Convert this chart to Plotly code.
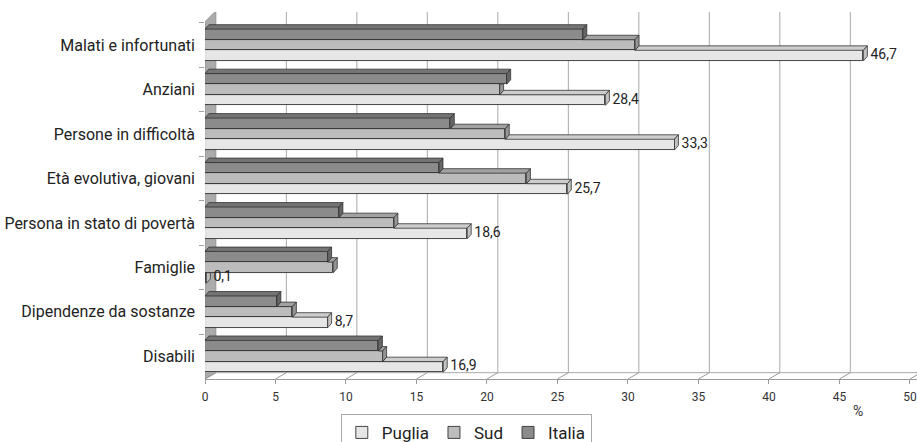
import plotly.graph_objects as go

# ---------------- data ----------------
categories = ["Malati e infortunati", "Anziani", "Persone in difficoltà",
              "Età evolutiva, giovani", "Persona in stato di povertà",
              "Famiglie", "Dipendenze da sostanze", "Disabili"]
puglia = [46.7, 28.4, 33.3, 25.7, 18.6, 0.1, 8.7, 16.9]
sud = [30.5, 20.9, 21.3, 22.8, 13.4, 9.1, 6.2, 12.6]
italia = [26.8, 21.4, 17.4, 16.6, 9.5, 8.7, 5.1, 12.3]
x_ticks = [0, 5, 10, 15, 20, 25, 30, 35, 40, 45, 50]
unit_label = "%"

# ---------------- styling / geometry ----------------
FONT = "Roboto, Liberation Sans, Arial, sans-serif"
TXT = "#222222"
X_RANGE = [0, 50.5]
Y_RANGE = [-0.51, 7.742]
H = 0.238            # bar thickness (category units)
BAR_DX, BAR_DY = 0.28, 0.10     # 3D depth of bars
WALL_DX, WALL_DY = 0.77, 0.142  # 3D depth of walls
TOP_FRONT, TOP_BACK = 7.52, 7.77
LABEL_GAP = 0.22

n = len(categories)
pos = [n - 1 - j for j in range(n)]   # first category on top

series = [
    # name, values, offset, front, top, side
    ("Puglia", puglia, -H, "#e6e6e6", "#cdcdcd", "#c2c2c2"),
    ("Sud", sud, 0.0, "#bcbcbc", "#a2a2a2", "#959595"),
    ("Italia", italia, H, "#8b8b8b", "#747474", "#666666"),
]
upper = {"Puglia": sud, "Sud": italia, "Italia": None}

fig = go.Figure()

# front faces as real bars
for name, vals, off, cf, ct, cs in series:
    fig.add_trace(go.Bar(
        name=name, orientation="h", x=vals, y=[p + off for p in pos],
        width=H, marker=dict(color=cf, line=dict(color="#333333", width=0.9)),
        hoverinfo="x+name",
    ))

# 3D top and side faces, derived from the same values
for name, vals, off, cf, ct, cs in series:
    up = upper[name]
    tx, ty, sx, sy = [], [], [], []
    for j, v in enumerate(vals):
        yc = pos[j] + off
        yt = yc + H / 2
        u = 0.0 if up is None else up[j]
        if v > u:
            tx += [u, v, v + BAR_DX, u + BAR_DX, u, None]
            ty += [yt, yt, yt + BAR_DY, yt + BAR_DY, yt, None]
        if up is not None and up[j] >= v + BAR_DX:
            sx += [v, v, v + BAR_DX, v + BAR_DX, v, None]
            sy += [yt - H, yt, yt, yt - H + BAR_DY, yt - H, None]
        else:
            sx += [v, v, v + BAR_DX, v + BAR_DX, v, None]
            sy += [yt - H, yt, yt + BAR_DY, yt - H + BAR_DY, yt - H, None]
    fig.add_trace(go.Scatter(x=tx, y=ty, mode="lines", fill="toself",
                             fillcolor=ct, line=dict(color="#333333", width=0.8),
                             showlegend=False, hoverinfo="skip"))
    fig.add_trace(go.Scatter(x=sx, y=sy, mode="lines", fill="toself",
                             fillcolor=cs, line=dict(color="#333333", width=0.8),
                             showlegend=False, hoverinfo="skip"))

# value labels for Puglia
fig.add_trace(go.Scatter(
    x=[v + BAR_DX + LABEL_GAP for v in puglia], y=[p - H for p in pos], mode="text",
    text=[f"{v:.1f}".replace(".", ",") for v in puglia],
    textposition="middle right", textfont=dict(family=FONT, size=14, color=TXT),
    showlegend=False, hoverinfo="skip", cliponaxis=False,
))

# ---------------- decorations: back wall grid, left wall, floor ----------------
y_floor_front = Y_RANGE[0]
y_floor_back = Y_RANGE[0] + WALL_DY
shapes = []
# left wall
shapes.append(dict(type="path", xref="x", yref="y", layer="below",
                   path=(f"M 0 {y_floor_front} L 0 {TOP_FRONT} L {WALL_DX} {TOP_BACK} "
                         f"L {WALL_DX} {y_floor_back} Z"),
                   fillcolor="#ababab", line=dict(color="#8a8a8a", width=0.8)))
# back-wall grid lines
for k in x_ticks[1:]:
    shapes.append(dict(type="line", xref="x", yref="y", layer="below",
                       x0=k + WALL_DX, x1=k + WALL_DX, y0=y_floor_back, y1=TOP_BACK,
                       line=dict(color="#a9a9a9", width=1)))
# floor back edge and diagonals
shapes.append(dict(type="line", xref="x", yref="y", layer="below",
                   x0=WALL_DX, x1=X_RANGE[1] + WALL_DX, y0=y_floor_back, y1=y_floor_back,
                   line=dict(color="#a9a9a9", width=1)))
for k in x_ticks:
    shapes.append(dict(type="line", xref="x", yref="y", layer="below",
                       x0=k, x1=k + WALL_DX, y0=y_floor_front, y1=y_floor_back,
                       line=dict(color="#9a9a9a", width=1)))

fig.update_layout(
    width=917, height=442,
    margin=dict(l=205, r=0, t=12, b=63, autoexpand=False),
    paper_bgcolor="white", plot_bgcolor="white",
    barmode="overlay", bargap=0,
    font=dict(family=FONT, color=TXT),
    shapes=shapes,
    showlegend=True,
    legend=dict(orientation="h", x=0.367, xanchor="center", y=-0.095, yanchor="top",
                bordercolor="#a8a8a8", borderwidth=1, bgcolor="white",
                font=dict(family=FONT, size=17, color=TXT), traceorder="normal"),
    annotations=[dict(text=unit_label, x=46.3, xref="x", y=-0.088, yref="paper",
                      showarrow=False, font=dict(family=FONT, size=14, color="#333333"),
                      xanchor="center", yanchor="middle")],
)

fig.update_xaxes(range=X_RANGE, tickvals=x_ticks, ticktext=[str(t) for t in x_ticks],
                 showgrid=False, zeroline=False, showline=True, linecolor="#9a9a9a",
                 ticks="outside", ticklen=4, tickcolor="#9a9a9a",
                 tickfont=dict(family=FONT, size=12, color="#333333"),
                 ticklabelstandoff=3, ticklabeloverflow="allow", fixedrange=True)
fig.update_yaxes(range=Y_RANGE, tickvals=pos, ticktext=categories,
                 showgrid=False, zeroline=False, showline=False, ticks="",
                 minor=dict(tickmode="array", tickvals=[p + 0.5 for p in pos],
                            ticks="outside", ticklen=5, tickcolor="#a0a0a0"),
                 tickfont=dict(family=FONT, size=16, color=TXT),
                 ticklabelstandoff=9, fixedrange=True)

fig.write_html("out.html", post_script="document.body.style.margin='0';",
               config={"displayModeBar": False})
